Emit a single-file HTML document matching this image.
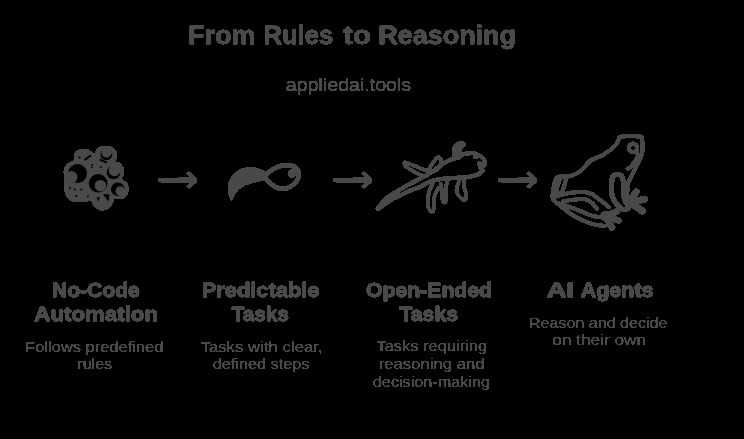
<!DOCTYPE html>
<html><head><meta charset="utf-8"><style>
html,body{margin:0;padding:0;background:#000;width:744px;height:439px;overflow:hidden}
svg{display:block}
text{font-family:"Liberation Sans",sans-serif;fill:#4a4a4a;stroke:#4a4a4a;stroke-linejoin:round}
</style></head><body>
<svg width="744" height="439" viewBox="0 0 744 439">
<defs><filter id="th" x="0" y="0" width="744" height="439" filterUnits="userSpaceOnUse"><feComponentTransfer><feFuncA type="discrete" tableValues="0 1 1"/></feComponentTransfer></filter></defs>
<rect width="744" height="439" fill="#000"/>
<g filter="url(#th)">
<text x="188.13" y="43.9" font-weight="bold" font-size="25" stroke-width="0.8" textLength="67.42" lengthAdjust="spacingAndGlyphs">From</text>
<text x="263.53" y="43.9" font-weight="bold" font-size="25" stroke-width="0.8" textLength="69.60" lengthAdjust="spacingAndGlyphs">Rules</text>
<text x="343.13" y="43.9" font-weight="bold" font-size="25" stroke-width="0.8" textLength="27.71" lengthAdjust="spacingAndGlyphs">to</text>
<text x="378.15" y="43.9" font-weight="bold" font-size="25" stroke-width="0.8" textLength="137.94" lengthAdjust="spacingAndGlyphs">Reasoning</text>
<text x="285.88" y="91.0" font-weight="normal" font-size="18" stroke-width="0.4" textLength="125.20" lengthAdjust="spacingAndGlyphs">appliedai.tools</text>
<text x="51.95" y="297.0" font-weight="bold" font-size="21" stroke-width="1.0" textLength="87.90" lengthAdjust="spacingAndGlyphs">No-Code</text>
<text x="34.35" y="320.5" font-weight="bold" font-size="21" stroke-width="1.0" textLength="123.72" lengthAdjust="spacingAndGlyphs">Automation</text>
<text x="201.73" y="297.0" font-weight="bold" font-size="21" stroke-width="1.0" textLength="117.74" lengthAdjust="spacingAndGlyphs">Predictable</text>
<text x="231.77" y="320.5" font-weight="bold" font-size="21" stroke-width="1.0" textLength="57.11" lengthAdjust="spacingAndGlyphs">Tasks</text>
<text x="365.97" y="297.0" font-weight="bold" font-size="21" stroke-width="1.0" textLength="126.10" lengthAdjust="spacingAndGlyphs">Open-Ended</text>
<text x="399.36" y="320.5" font-weight="bold" font-size="21" stroke-width="1.0" textLength="58.75" lengthAdjust="spacingAndGlyphs">Tasks</text>
<text x="546.75" y="297.3" font-weight="bold" font-size="21" stroke-width="1.0" textLength="27.40" lengthAdjust="spacingAndGlyphs">AI</text>
<text x="580.76" y="297.3" font-weight="bold" font-size="21" stroke-width="1.0" textLength="72.72" lengthAdjust="spacingAndGlyphs">Agents</text>
<text x="25.33" y="351.5" font-weight="normal" font-size="15.5" stroke-width="0.15" textLength="137.97" lengthAdjust="spacingAndGlyphs">Follows predefined</text>
<text x="77.33" y="369.3" font-weight="normal" font-size="15.5" stroke-width="0.15" textLength="34.79" lengthAdjust="spacingAndGlyphs">rules</text>
<text x="200.53" y="351.5" font-weight="normal" font-size="15.5" stroke-width="0.15" textLength="122.16" lengthAdjust="spacingAndGlyphs">Tasks with clear,</text>
<text x="212.68" y="369.3" font-weight="normal" font-size="15.5" stroke-width="0.15" textLength="96.79" lengthAdjust="spacingAndGlyphs">defined steps</text>
<text x="376.51" y="351.4" font-weight="normal" font-size="15.5" stroke-width="0.15" textLength="110.58" lengthAdjust="spacingAndGlyphs">Tasks requiring</text>
<text x="378.75" y="369.2" font-weight="normal" font-size="15.5" stroke-width="0.15" textLength="105.76" lengthAdjust="spacingAndGlyphs">reasoning and</text>
<text x="372.85" y="387" font-weight="normal" font-size="15.5" stroke-width="0.15" textLength="117.23" lengthAdjust="spacingAndGlyphs">decision-making</text>
<text x="528.93" y="327.8" font-weight="normal" font-size="15.5" stroke-width="0.15" textLength="138.55" lengthAdjust="spacingAndGlyphs">Reason and decide</text>
<text x="552.33" y="345.1" font-weight="normal" font-size="15.5" stroke-width="0.15" textLength="93.75" lengthAdjust="spacingAndGlyphs">on their own</text>
<path fill="#4a4a4a" d="M157.9 177.9 L178.2 177.9 L178.2 177.1 L189.5 177.1 L186.3 173.8 L188.7 171.0 L196.8 178.3 L197.2 180.3 L196.8 182.3 L189.1 188.8 L186.3 186.4 L189.5 183.0 L161.3 183.0 L161.3 182.3 L157.9 182.3Z"/>
<path fill="#4a4a4a" d="M332.9 177.9 L353.2 177.9 L353.2 177.1 L364.5 177.1 L361.3 173.8 L363.7 171.0 L371.8 178.3 L372.2 180.3 L371.8 182.3 L364.1 188.8 L361.3 186.4 L364.5 183.0 L336.3 183.0 L336.3 182.3 L332.9 182.3Z"/>
<path fill="#4a4a4a" d="M497.9 177.9 L518.2 177.9 L518.2 177.1 L529.5 177.1 L526.3 173.8 L528.7 171.0 L536.8 178.3 L537.2 180.3 L536.8 182.3 L529.1 188.8 L526.3 186.4 L529.5 183.0 L501.3 183.0 L501.3 182.3 L497.9 182.3Z"/>
<path fill="#4a4a4a" d="M73.7 154.8 C74.0 153.4 74.8 152.3 75.5 151.5 C76.2 150.7 77.1 150.2 78.2 149.8 C79.3 149.4 80.4 149.3 81.9 149.2 C83.4 149.1 85.7 148.9 87.3 149.2 C88.9 149.5 90.2 150.6 91.4 151.2 C92.6 151.8 93.4 153.2 94.2 153.0 C95.0 152.8 95.6 150.8 96.4 149.8 C97.2 148.8 98.2 147.7 99.3 147.1 C100.4 146.5 101.2 146.3 103.0 146.2 C104.8 146.0 108.3 145.8 110.2 146.2 C112.1 146.6 113.2 147.5 114.3 148.5 C115.4 149.5 116.1 150.6 116.6 152.1 C117.0 153.6 117.2 156.0 117.0 157.6 C116.8 159.2 115.3 160.9 115.7 161.7 C116.1 162.5 118.2 161.9 119.3 162.6 C120.4 163.3 121.7 164.5 122.5 165.8 C123.3 167.1 124.1 168.8 124.3 170.3 C124.5 171.8 124.3 173.5 123.9 174.9 C123.5 176.3 121.5 177.3 122.0 178.5 C122.5 179.7 125.5 181.1 126.6 182.3 C127.7 183.6 128.1 184.5 128.4 186.0 C128.7 187.5 128.7 189.7 128.4 191.4 C128.1 193.1 127.5 194.8 126.6 196.0 C125.7 197.2 124.5 198.2 123.0 198.7 C121.5 199.2 119.0 199.0 117.5 199.1 C116.0 199.2 114.6 198.7 113.9 199.1 C113.2 199.5 113.9 200.2 113.4 201.4 C112.9 202.6 112.2 204.6 111.1 206.0 C110.0 207.4 108.4 208.8 106.6 209.6 C104.8 210.3 102.0 210.8 100.2 210.5 C98.4 210.2 97.0 208.9 95.6 207.8 C94.2 206.8 92.7 205.3 91.9 204.2 C91.1 203.1 92.5 201.8 91.0 201.4 C89.5 201.0 85.8 201.9 82.8 201.9 C79.8 201.9 75.1 201.8 72.8 201.4 C70.5 201.0 70.3 200.7 69.1 199.6 C67.9 198.5 66.3 197.1 65.5 195.0 C64.7 192.9 64.3 189.7 64.1 186.8 C63.9 183.9 64.2 180.2 64.1 177.6 C64.0 175.0 63.5 173.0 63.6 171.2 C63.8 169.4 64.2 168.1 65.0 166.7 C65.8 165.3 67.2 163.7 68.7 162.6 C70.2 161.5 72.9 161.2 73.7 159.9 C74.5 158.6 73.4 156.2 73.7 154.8Z"/>
<circle cx="77.5" cy="173.5" r="9.5" fill="#000"/><circle cx="71.5" cy="177" r="6" fill="#4a4a4a"/>
<circle cx="98.2" cy="183.3" r="9.3" fill="#000"/><circle cx="100.5" cy="185.7" r="5.8" fill="#4a4a4a"/>
<circle cx="106.4" cy="154.3" r="5.9" fill="#000"/><circle cx="106.6" cy="152.3" r="5.2" fill="#4a4a4a"/>
<circle cx="113.5" cy="172.5" r="6.8" fill="#000"/><circle cx="114.5" cy="170.5" r="5.8" fill="#4a4a4a"/>
<circle cx="117.8" cy="189.3" r="6.8" fill="#000"/><circle cx="120.3" cy="191" r="4.8" fill="#4a4a4a"/>
<g fill="#000"><circle cx="79.6" cy="157.6" r="1.1"/><circle cx="92.3" cy="165" r="1"/><circle cx="91.9" cy="167.3" r="0.9"/><circle cx="70" cy="187.8" r="1"/><circle cx="74.6" cy="189.6" r="1"/><circle cx="81.4" cy="189.6" r="1"/><circle cx="76.4" cy="196" r="1"/><circle cx="87.8" cy="196.4" r="1"/><circle cx="101" cy="167.1" r="1"/><path d="M103 194 L109.5 194.5 L108.5 201.7Z M96.6 197.5 L99.8 197 L98.5 201.7Z"/></g>
<path fill="none" stroke="#000" stroke-width="2" d="M84.6 159.9 L91 155.3 M99.7 159.5 L107 162.6"/>
<path fill="#4a4a4a" d="M231.6 201.7 C231.1 200.4 228.9 196.9 228.3 194.0 C227.7 191.1 227.8 187.0 228.2 184.2 C228.6 181.4 229.8 179.3 230.9 177.4 C232.0 175.5 233.2 174.1 235.0 172.6 C236.8 171.1 239.2 169.4 241.9 168.5 C244.7 167.6 248.5 167.0 251.5 167.1 C254.5 167.2 257.3 168.1 259.7 168.9 C262.1 169.7 264.9 170.3 266.0 172.0 C267.1 173.7 268.5 177.2 266.5 179.0 C264.5 180.8 257.8 181.7 254.2 182.8 C250.5 183.9 247.3 184.4 244.6 185.8 C241.9 187.2 239.6 189.1 237.8 191.0 C236.0 192.9 234.7 195.4 233.7 197.2 C232.7 199.0 231.9 200.9 231.6 201.7Z"/>
<path fill="none" stroke="#4a4a4a" stroke-width="4.8" d="M265.5 175.0 C266.7 174.1 270.0 171.0 272.5 169.5 C275.0 168.0 277.8 166.7 280.5 166.0 C283.2 165.3 286.0 165.1 288.5 165.3 C291.0 165.5 293.9 165.9 295.5 167.0 C297.1 168.1 297.9 169.9 298.3 172.0 C298.7 174.1 298.6 177.4 297.8 179.5 C297.0 181.6 295.3 183.0 293.5 184.5 C291.7 186.0 289.2 187.7 286.8 188.3 C284.4 188.9 281.6 188.9 279.0 188.3 C276.4 187.7 273.8 186.1 271.5 184.5 C269.2 182.9 266.5 179.5 265.5 178.5"/>
<circle cx="292" cy="173.5" r="4.3" fill="#4a4a4a"/>
<path fill="none" stroke="#4a4a4a" stroke-width="4.3" stroke-linecap="round" stroke-linejoin="round" d="M378.5 207.5 C379.8 205.9 383.1 201.2 387.0 198.0 C390.9 194.8 396.7 191.4 401.6 188.5 C406.5 185.6 411.5 183.2 416.4 180.5 C421.3 177.8 426.8 175.2 431.0 172.5 C435.2 169.8 438.9 166.3 441.9 164.3 C444.9 162.3 446.8 161.6 449.2 160.5 C451.6 159.4 454.1 158.6 456.5 157.5 C458.9 156.4 461.0 154.7 463.7 154.0 C466.4 153.3 470.0 152.8 472.9 153.2 C475.8 153.6 479.1 155.2 481.0 156.5 C482.9 157.8 484.0 159.5 484.5 161.0 C485.0 162.5 484.8 164.5 484.0 165.5 C483.2 166.5 480.1 166.2 479.8 167.0 C479.6 167.8 482.9 169.2 482.5 170.5 C482.1 171.8 479.7 173.4 477.5 174.5 C475.3 175.6 472.7 176.2 469.2 176.8 C465.7 177.4 461.1 177.5 456.5 177.8 C451.9 178.1 446.1 178.3 441.9 178.8 C437.6 179.3 434.5 179.7 431.0 181.0 C427.5 182.3 425.1 184.6 420.9 186.5 C416.7 188.4 410.9 190.3 406.0 192.5 C401.1 194.7 395.7 197.0 391.3 199.6 C386.9 202.2 381.6 206.5 379.5 207.8 C377.4 209.1 377.2 209.1 378.5 207.5Z"/>
<path fill="#4a4a4a" d="M452.3 158.0 C451.4 156.0 452.0 150.4 452.5 148.0 C453.0 145.6 454.2 144.4 455.5 143.3 C456.8 142.2 458.6 141.6 460.0 141.3 C461.4 141.1 463.0 141.3 464.0 141.8 C465.0 142.3 465.8 143.4 465.8 144.3 C465.9 145.2 465.0 146.6 464.3 147.5 C463.6 148.4 461.8 149.1 461.5 150.0 C461.2 150.9 461.9 152.2 462.5 153.0 C463.1 153.8 465.8 153.8 465.0 155.0 C464.2 156.2 460.1 159.5 458.0 160.0 C455.9 160.5 453.2 160.0 452.3 158.0Z"/><circle cx="475.5" cy="156.5" r="2.6" fill="#4a4a4a"/><circle cx="479.5" cy="163.5" r="2.6" fill="#4a4a4a"/>
<path fill="none" stroke="#4a4a4a" stroke-width="3.8" stroke-linecap="round" stroke-linejoin="round" d="M428.0 171.5 C427.0 170.2 424.6 170.0 420.9 168.5 C417.2 167.0 408.7 163.3 406.0 162.5 C403.3 161.7 404.4 163.1 404.5 163.8 C404.6 164.6 403.8 165.1 406.5 167.0 C409.2 168.9 417.5 173.5 420.9 175.0 C424.3 176.5 425.8 176.6 427.0 176.0 C428.2 175.4 429.0 172.8 428.0 171.5Z"/>
<path fill="none" stroke="#4a4a4a" stroke-width="3.8" stroke-linecap="round" stroke-linejoin="round" d="M427.8 172.0 C427.6 170.2 435.1 159.3 437.3 157.5 C439.5 155.7 440.8 159.2 441.0 161.0 C441.2 162.8 440.7 166.7 438.5 168.5 C436.3 170.3 428.0 173.8 427.8 172.0Z"/>
<path fill="none" stroke="#4a4a4a" stroke-width="3.8" stroke-linecap="round" stroke-linejoin="round" d="M433.0 183.0 C432.3 184.5 429.8 188.8 429.0 192.0 C428.2 195.2 428.0 199.2 428.0 202.0 C428.0 204.8 428.2 207.4 429.0 209.0 C429.8 210.6 432.0 212.0 432.8 211.5 C433.6 211.0 433.7 208.6 434.0 206.0 C434.3 203.4 433.8 199.0 434.5 196.0 C435.2 193.0 437.8 189.3 438.5 188.0"/>
<path fill="none" stroke="#4a4a4a" stroke-width="3.8" stroke-linecap="round" stroke-linejoin="round" d="M441.0 184.0 C441.2 186.0 441.6 192.9 442.0 196.0 C442.4 199.1 443.0 201.8 443.7 202.5 C444.4 203.2 445.7 202.1 446.0 200.0 C446.3 197.9 445.3 193.0 445.5 190.0 C445.7 187.0 446.8 183.3 447.0 182.0"/>
<path fill="none" stroke="#4a4a4a" stroke-width="3.8" stroke-linecap="round" stroke-linejoin="round" d="M459.0 180.5 C458.6 182.2 456.4 188.3 456.5 191.0 C456.6 193.7 458.1 195.0 459.5 196.5 C460.9 198.0 463.9 200.6 465.0 200.0 C466.1 199.4 466.2 195.3 466.0 193.0 C465.8 190.7 463.9 188.3 463.7 186.0 C463.4 183.7 464.4 180.2 464.5 179.0"/>
<path fill="none" stroke="#4a4a4a" stroke-width="4.1" stroke-linecap="round" stroke-linejoin="round" d="M628.0 191.0 C627.9 190.0 626.8 187.3 627.3 185.0 C627.8 182.7 629.6 179.9 631.0 177.0 C632.4 174.1 634.2 170.6 635.8 167.4 C637.4 164.2 639.5 160.8 640.6 157.8 C641.7 154.8 642.4 152.7 642.6 149.6 C642.8 146.5 642.5 141.2 642.0 139.0 C641.5 136.8 642.9 137.0 639.5 136.6 C636.1 136.2 624.8 136.2 621.4 136.6 C618.0 137.0 620.1 137.4 619.0 139.0 C617.9 140.6 617.1 143.6 614.6 146.2 C612.1 148.8 607.8 151.9 603.7 154.4 C599.6 156.9 593.6 158.4 590.0 161.0 C586.4 163.6 584.9 167.6 581.9 170.0 C578.9 172.4 575.3 174.5 572.3 175.5 C569.3 176.5 566.6 175.9 564.1 176.2 C561.6 176.5 558.9 176.5 557.3 177.5 C555.7 178.5 555.3 180.1 554.6 182.3 C553.9 184.5 553.6 188.0 553.2 190.5 C552.9 193.0 552.3 195.5 552.5 197.3 C552.7 199.1 553.4 200.0 554.6 201.4 C555.9 202.8 558.0 203.9 560.0 205.5 C562.0 207.1 564.4 209.2 566.9 211.0 C569.4 212.8 572.0 214.8 575.0 216.5 C578.0 218.2 581.2 219.8 584.6 221.2 C588.0 222.6 592.2 223.9 595.6 224.7 C599.0 225.5 603.4 225.8 605.0 226.0"/>
<path fill="none" stroke="#4a4a4a" stroke-width="4.1" stroke-linecap="round" stroke-linejoin="round" d="M566.5 177.0 C566.1 178.7 564.9 184.3 564.0 187.0 C563.1 189.7 562.2 191.8 561.0 193.0 C559.8 194.2 557.6 195.2 557.0 194.0 C556.4 192.8 557.0 188.5 557.5 186.0 C558.0 183.5 559.6 180.2 560.0 179.0"/>
<path fill="none" stroke="#4a4a4a" stroke-width="4.1" stroke-linecap="round" stroke-linejoin="round" d="M553.2 197.3 C554.8 196.9 559.6 195.4 562.8 194.6 C566.0 193.8 568.9 192.9 572.3 192.5 C575.7 192.1 580.1 191.7 583.3 191.9 C586.5 192.1 589.0 192.8 591.5 193.9 C594.0 195.0 596.2 197.2 598.3 198.7 C600.3 200.2 602.0 201.4 603.8 202.8 C605.6 204.2 608.1 206.3 609.0 207.0"/>
<path fill="none" stroke="#4a4a4a" stroke-width="4.1" stroke-linecap="round" stroke-linejoin="round" d="M562.8 201.4 C564.4 201.2 568.9 200.4 572.3 200.0 C575.7 199.6 580.3 198.5 583.3 198.7 C586.3 198.9 588.0 200.0 590.1 201.4 C592.2 202.8 594.5 205.7 595.6 206.9 C596.8 208.1 596.8 208.2 597.0 208.5"/>
<path fill="none" stroke="#4a4a4a" stroke-width="4.1" stroke-linecap="round" stroke-linejoin="round" d="M558.7 203.5 C560.5 204.1 566.0 205.7 569.6 206.9 C573.2 208.2 577.1 209.6 580.5 211.0 C583.9 212.4 586.9 214.1 590.1 215.1 C593.3 216.1 597.2 217.0 599.7 217.2 C602.2 217.4 604.1 216.6 605.0 216.5"/>
<path fill="none" stroke="#4a4a4a" stroke-width="5.2" stroke-linecap="round" stroke-linejoin="round" d="M628.0 205.0 C627.4 204.0 625.2 201.5 624.5 199.0 C623.8 196.5 623.7 192.8 623.5 190.0 C623.3 187.2 623.8 184.3 623.5 182.0 C623.2 179.7 622.5 177.2 621.5 176.0 C620.5 174.8 618.9 174.4 617.5 174.5 C616.1 174.6 614.0 174.9 613.0 176.5 C612.0 178.1 611.8 181.4 611.5 184.0 C611.2 186.6 611.2 189.7 611.5 192.0 C611.8 194.3 612.0 195.8 613.0 198.0 C614.0 200.2 616.1 203.6 617.8 205.5 C619.5 207.4 621.4 209.1 623.2 209.6 C625.0 210.1 627.8 208.5 628.7 208.3"/>
<g fill="none" stroke="#4a4a4a" stroke-width="7" stroke-linecap="round"><path d="M629.4 202.1 L636.2 191.9 M629.4 202.1 L644.4 199.4 M629.4 202.1 L642.4 211 M626 196 L629.4 204"/></g><circle cx="629.4" cy="202.1" r="6" fill="#4a4a4a"/>
<g fill="none" stroke="#4a4a4a" stroke-width="6.5" stroke-linecap="round"><path d="M605 216 L617 211.5 M605 216 L618.5 220.5 M605 216 L612 227.5"/></g><circle cx="605" cy="216" r="5" fill="#4a4a4a"/>
<circle cx="633" cy="147.8" r="4.2" fill="none" stroke="#4a4a4a" stroke-width="4.1" stroke-linecap="round" stroke-linejoin="round" stroke-width="3.6"/>
<path fill="none" stroke="#4a4a4a" stroke-width="4.1" stroke-linecap="round" stroke-linejoin="round" d="M636.5 150.0 C636.7 151.1 638.3 154.2 637.8 156.4 C637.3 158.6 635.1 161.5 633.7 163.3 C632.3 165.1 630.6 166.5 629.6 167.4 C628.6 168.3 627.9 168.5 627.6 168.7"/>
</g>
</svg>
</body></html>
